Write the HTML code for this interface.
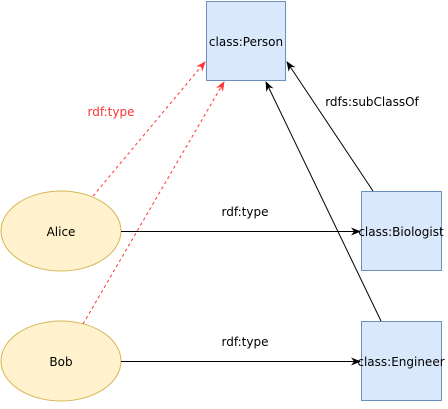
<!DOCTYPE html>
<html><head><style>body{margin:0;background:#fff}</style></head><body>
<svg width="448" height="404" viewBox="0 0 448 404" xmlns="http://www.w3.org/2000/svg" font-family="DejaVu Sans, Liberation Sans, sans-serif" font-size="12">
<defs>
<marker id="ab" markerWidth="10" markerHeight="8" refX="9" refY="4" orient="auto" markerUnits="userSpaceOnUse"><path d="M0,0 L10,4 L0,8 L3,4 Z" fill="#000"/></marker>
<marker id="ar" markerWidth="10" markerHeight="8" refX="9" refY="4" orient="auto" markerUnits="userSpaceOnUse"><path d="M0,0 L10,4 L0,8 L3,4 Z" fill="#ff3333"/></marker>
</defs>
<rect x="206.5" y="1.5" width="79" height="79" fill="#dae8fc" stroke="#6c8ebf"/>
<text x="246" y="46" text-anchor="middle">class:Person</text>
<rect x="361.5" y="191.5" width="80" height="79" fill="#dae8fc" stroke="#6c8ebf"/>
<text x="401" y="236" text-anchor="middle">class:Biologist</text>
<rect x="361.5" y="321.5" width="80" height="79" fill="#dae8fc" stroke="#6c8ebf"/>
<text x="401" y="366" text-anchor="middle">class:Engineer</text>
<ellipse cx="61" cy="231" rx="60" ry="40" fill="#fff2cc" stroke="#d6b656"/>
<text x="61" y="236" text-anchor="middle">Alice</text>
<ellipse cx="61" cy="361" rx="60" ry="40" fill="#fff2cc" stroke="#d6b656"/>
<text x="61" y="366" text-anchor="middle">Bob</text>
<line x1="93" y1="196" x2="205" y2="62" stroke="#ff3333" stroke-dasharray="3,3" marker-end="url(#ar)"/>
<line x1="83" y1="324" x2="224" y2="82" stroke="#ff3333" stroke-dasharray="3,3" marker-end="url(#ar)"/>
<line x1="373" y1="191" x2="287" y2="62" stroke="#000" marker-end="url(#ab)"/>
<line x1="381" y1="321" x2="266" y2="82" stroke="#000" marker-end="url(#ab)"/>
<line x1="121" y1="231.5" x2="360" y2="231.5" stroke="#000" marker-end="url(#ab)"/>
<line x1="121" y1="361.5" x2="360" y2="361.5" stroke="#000" marker-end="url(#ab)"/>
<text x="111" y="116" text-anchor="middle" fill="#ff3333">rdf:type</text>
<text x="372" y="106" text-anchor="middle">rdfs:subClassOf</text>
<text x="245" y="216" text-anchor="middle">rdf:type</text>
<text x="245" y="346" text-anchor="middle">rdf:type</text>
</svg>
</body></html>
